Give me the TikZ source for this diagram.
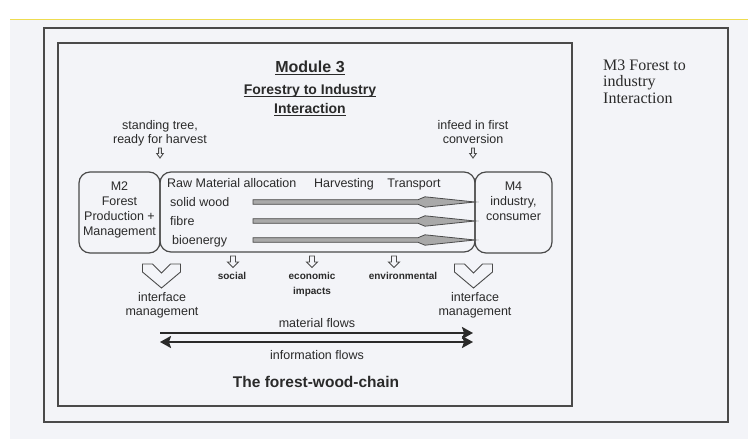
\documentclass[tikz,border=0pt]{standalone}
\usepackage{fontspec}
\setmainfont{Liberation Sans}
\newfontfamily\notefont{Liberation Serif}
\usetikzlibrary{arrows.meta,calc}
\definecolor{bg}{HTML}{F3F4F8}
\definecolor{ink}{HTML}{2A2A2A}
\definecolor{framec}{HTML}{4A4A4A}
\definecolor{flowfill}{HTML}{A9A9A9}
\definecolor{yel}{HTML}{EEDC50}
\newcommand\hollowdown[6]{%
  \begin{scope}[shift={(#1,#2)}]
    \draw[hollow] (-#3,0) -- (#3,0) -- (#3,#5) -- (#4,#5) -- (0,#5+#6) -- (-#4,#5) -- (-#3,#5) -- cycle;
  \end{scope}}
\newcommand\ifchev[1]{%
  \begin{scope}[shift={(#1,264)}]
    \draw[hollow] (-19,0) -- (-9,0) -- (0,9) -- (9,0) -- (19,0) -- (19,8) -- (0,24) -- (-19,8) -- cycle;
  \end{scope}}
\begin{document}
\begin{tikzpicture}[x=1pt,y=-1pt,
  txt/.style={font=\fontsize{12.5}{15}\selectfont, text=ink, inner sep=0pt, align=center},
  impact/.style={font=\bfseries\fontsize{10}{12}\selectfont, text=ink, inner sep=0pt},
  bigttl/.style={font=\bfseries\fontsize{16}{18}\selectfont, text=ink, inner sep=0pt},
  subttl/.style={font=\bfseries\fontsize{14}{16}\selectfont, text=ink, inner sep=0pt},
  chaintitle/.style={font=\bfseries\fontsize{15.5}{18}\selectfont, text=ink, inner sep=0pt},
  note/.style={font=\notefont\fontsize{16}{16}\selectfont, text=ink, inner sep=0pt, align=left},
  framel/.style={draw=framec, line width=1.5pt},
  module/.style={draw=framec, line width=1.2pt, rounded corners=11pt, outer sep=0pt, inner sep=0pt},
  hollow/.style={draw=framec, line width=0.9pt, fill=bg, line join=miter},
  flowarrow/.style={draw=framec, line width=0.8pt, fill=flowfill, line join=miter},
  bigflow/.style={draw=ink, line width=2.6pt},
  ulline/.style={draw=ink, line width=1.2pt}
]
\useasboundingbox (0,0) rectangle (748,439);
\fill[white] (0,0) rectangle (748,439);
\fill[bg] (10,20) rectangle (748,439);
\draw[yel, line width=1.5pt] (10,19.5) -- (748,19.5);

% frames
\draw[framel] (44,28) rectangle (728,422);
\draw[framel] (58,43) rectangle (572,406);

% side note
\node[note, anchor=base west] (n1) at (603,70) {M3 Forest to};
\node[note, anchor=base west] (n2) at (603,86.5) {industry};
\node[note, anchor=base west] (n3) at (603,103) {Interaction};

% titles
\node[bigttl, anchor=base] (t1) at (310,72) {Module 3};
\node[subttl, anchor=base] (t2) at (310,94) {Forestry to Industry};
\node[subttl, anchor=base] (t3) at (310,113) {Interaction};
\foreach \t in {t1,t2,t3}
  \draw[ulline] ($(\t.base west)+(0,2.6)$) -- ($(\t.base east)+(0,2.6)$);

% inputs / outputs above
\node[txt, anchor=base] (st1) at (160,129) {standing tree,};
\node[txt, anchor=base] (st2) at (160,143.5) {ready for harvest};
\node[txt, anchor=base] (in1) at (473,129) {infeed in first};
\node[txt, anchor=base] (in2) at (473,143.5) {conversion};
\hollowdown{160}{148}{1.4}{3.3}{5.5}{4.5}
\hollowdown{473}{148}{1.4}{3.3}{5.5}{4.5}

% modules
\node[module, minimum width=81pt, minimum height=81pt] (m2) at (119.5,212.5) {};
\node[module, minimum width=315pt, minimum height=80pt] (rm) at (317.5,212) {};
\node[module, minimum width=77pt, minimum height=81pt] (m4) at (513.5,212.5) {};
\node[txt, anchor=north] (m2t) at (119.5,181.5) {M2\\Forest\\Production +\\Management};
\node[txt, anchor=north] (m4t) at (513.5,181.5) {M4\\industry,\\consumer};

\node[txt, anchor=base west] (raw) at (167,187) {Raw Material allocation};
\node[txt, anchor=base] (harv) at (344,187) {Harvesting};
\node[txt, anchor=base] (trans) at (414,187) {Transport};
\node[txt, anchor=base west] (sw) at (170,206) {solid wood};
\node[txt, anchor=base west] (fb) at (170,225) {fibre};
\node[txt, anchor=base west] (be) at (172,244.5) {bioenergy};

\foreach \i/\yy in {1/202,2/221,3/240} {
  \coordinate (s\i) at (253,\yy);
  \coordinate (e\i) at (m4.west |- s\i);
  \draw[flowarrow] ($(s\i)+(0,-2.3)$) -- ($(e\i)+(-57,-2.3)$) -- ($(e\i)+(-50,-5.2)$) -- (e\i)
     -- ($(e\i)+(-50,5.2)$) -- ($(e\i)+(-57,2.3)$) -- ($(s\i)+(0,2.3)$) -- cycle;
}

% impacts
\hollowdown{233}{256}{2.5}{5.5}{6}{5.5}
\hollowdown{312}{256}{2.5}{5.5}{6}{5.5}
\hollowdown{394}{256}{2.5}{5.5}{6}{5.5}
\node[impact, anchor=base] (soc) at (232,279) {social};
\node[impact, anchor=base] (eco) at (312,279) {economic};
\node[impact, anchor=base] (imp) at (312,294) {impacts};
\node[impact, anchor=base] (env) at (403,279) {environmental};

% interface management
\ifchev{161.5}
\ifchev{473.5}
\node[txt, anchor=base] (if1) at (162,301) {interface};
\node[txt, anchor=base] (if2) at (162,315) {management};
\node[txt, anchor=base] (if3) at (475,301) {interface};
\node[txt, anchor=base] (if4) at (475,315) {management};

% flows
\node[txt, anchor=base] (mf) at (317,327) {material flows};
\coordinate (mfa) at (160,333);
\coordinate (mfb) at (473,333);
\coordinate (ifa) at (160,342);
\coordinate (ifb) at (473,342);
\draw[bigflow, -{Stealth[length=11pt,width=12pt,inset=2pt]}] (mfa) -- (mfb);
\draw[bigflow, {Stealth[length=11pt,width=12pt,inset=2pt]}-{Stealth[length=11pt,width=12pt,inset=2pt]}] (ifa) -- (ifb);
\node[txt, anchor=base] (inf) at (317,359) {information flows};
\node[chaintitle, anchor=base] (fwc) at (316,387) {The forest-wood-chain};
\end{tikzpicture}
\end{document}
